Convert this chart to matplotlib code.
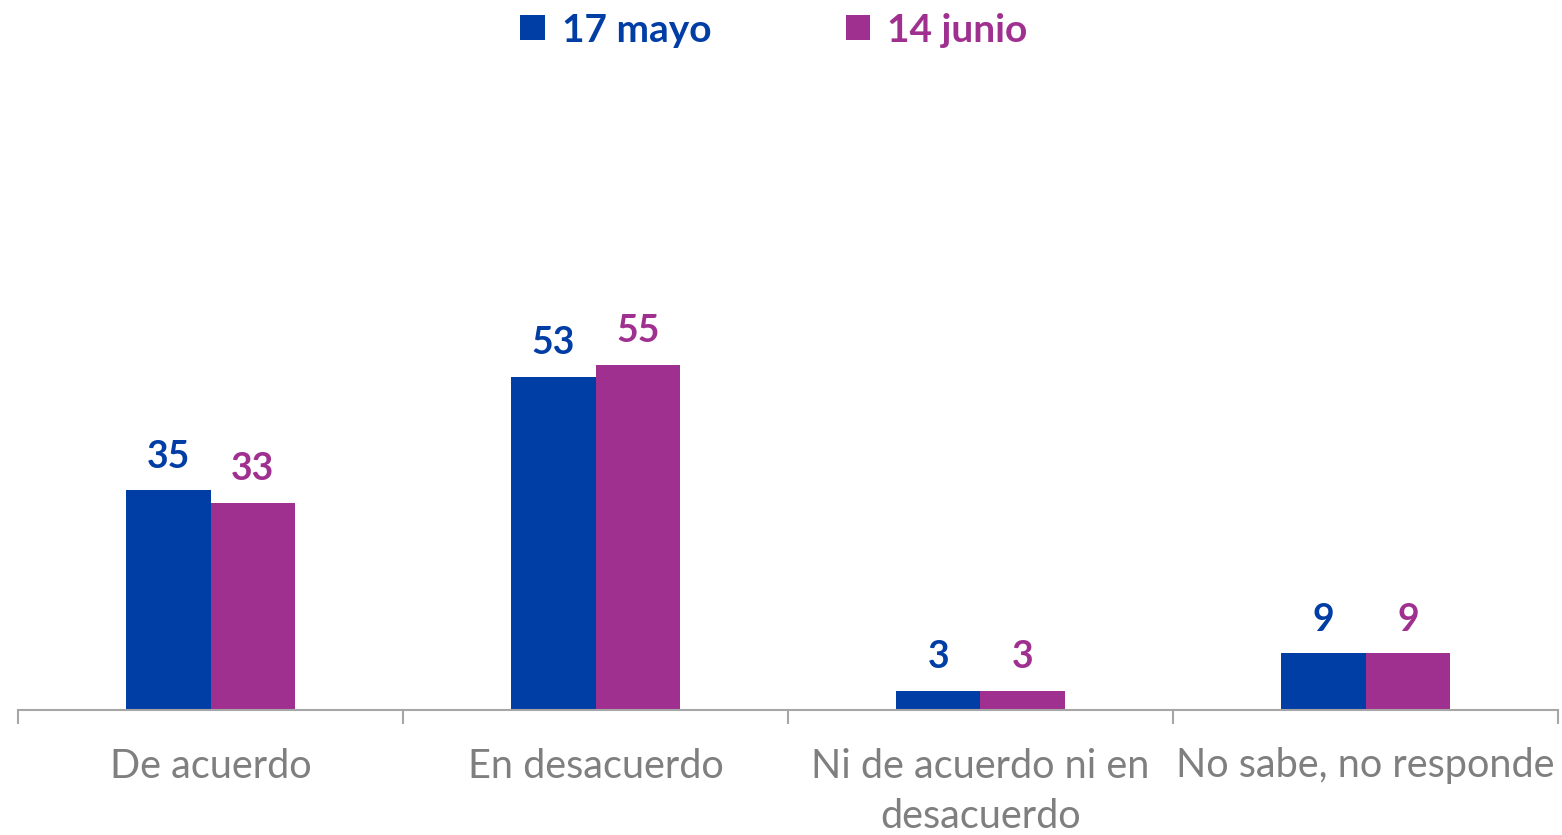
import numpy as np
import matplotlib.pyplot as plt
from matplotlib.ticker import FixedLocator

plt.rcParams['font.family'] = ['Lato', 'DejaVu Sans']

# data
categories = ['De acuerdo', 'En desacuerdo', 'Ni de acuerdo ni en\ndesacuerdo', 'No sabe, no responde']
mayo_17 = [35, 53, 3, 9]
junio_14 = [33, 55, 3, 9]
series_names = ['17 mayo', '14 junio']

blue = '#003DA5'
purple = '#A0308F'
gray_axis = '#A6A6A6'
gray_text = '#7F7F7F'

fig = plt.figure(figsize=(15.62, 8.35), dpi=100)
ax = fig.add_axes([18 / 1562, 125 / 835, 1540 / 1562, 650 / 835])

x = np.arange(len(categories))
w = 0.22
b1 = ax.bar(x - w / 2, mayo_17, w, color=blue, label=series_names[0])
b2 = ax.bar(x + w / 2, junio_14, w, color=purple, label=series_names[1])

for bars, vals, c in [(b1, mayo_17, blue), (b2, junio_14, purple)]:
    for r, v in zip(bars, vals):
        ax.annotate(str(v), (r.get_x() + r.get_width() / 2, v), xytext=(0, 12),
                    textcoords='offset points', ha='center', va='bottom',
                    fontsize=27, fontweight='bold', color=c)

ax.set_xlim(-0.5, len(categories) - 0.5)
ax.set_ylim(0, 650 / 6.28)

for s in ['top', 'right', 'left']:
    ax.spines[s].set_visible(False)
ax.spines['bottom'].set_color(gray_axis)
ax.spines['bottom'].set_linewidth(1.5)
ax.set_yticks([])

ax.set_xticks(x)
ax.set_xticklabels(categories, fontsize=28.5, color=gray_text, linespacing=1.45)
ax.tick_params(axis='x', which='major', length=0, pad=27)
ax.xaxis.set_minor_locator(FixedLocator(np.arange(len(categories) + 1) - 0.5))
ax.tick_params(axis='x', which='minor', length=10, width=1.5, color=gray_axis, direction='out')

leg = fig.legend(handles=[b1, b2], loc='center', bbox_to_anchor=(774 / 1562, 1 - 30 / 835),
                 ncol=2, frameon=False, handlelength=0.62, handleheight=0.62,
                 handletextpad=0.45, columnspacing=3.45, prop={'weight': 'bold', 'size': 28})
for t, c in zip(leg.get_texts(), [blue, purple]):
    t.set_color(c)

fig.savefig('out.png', dpi=100)
